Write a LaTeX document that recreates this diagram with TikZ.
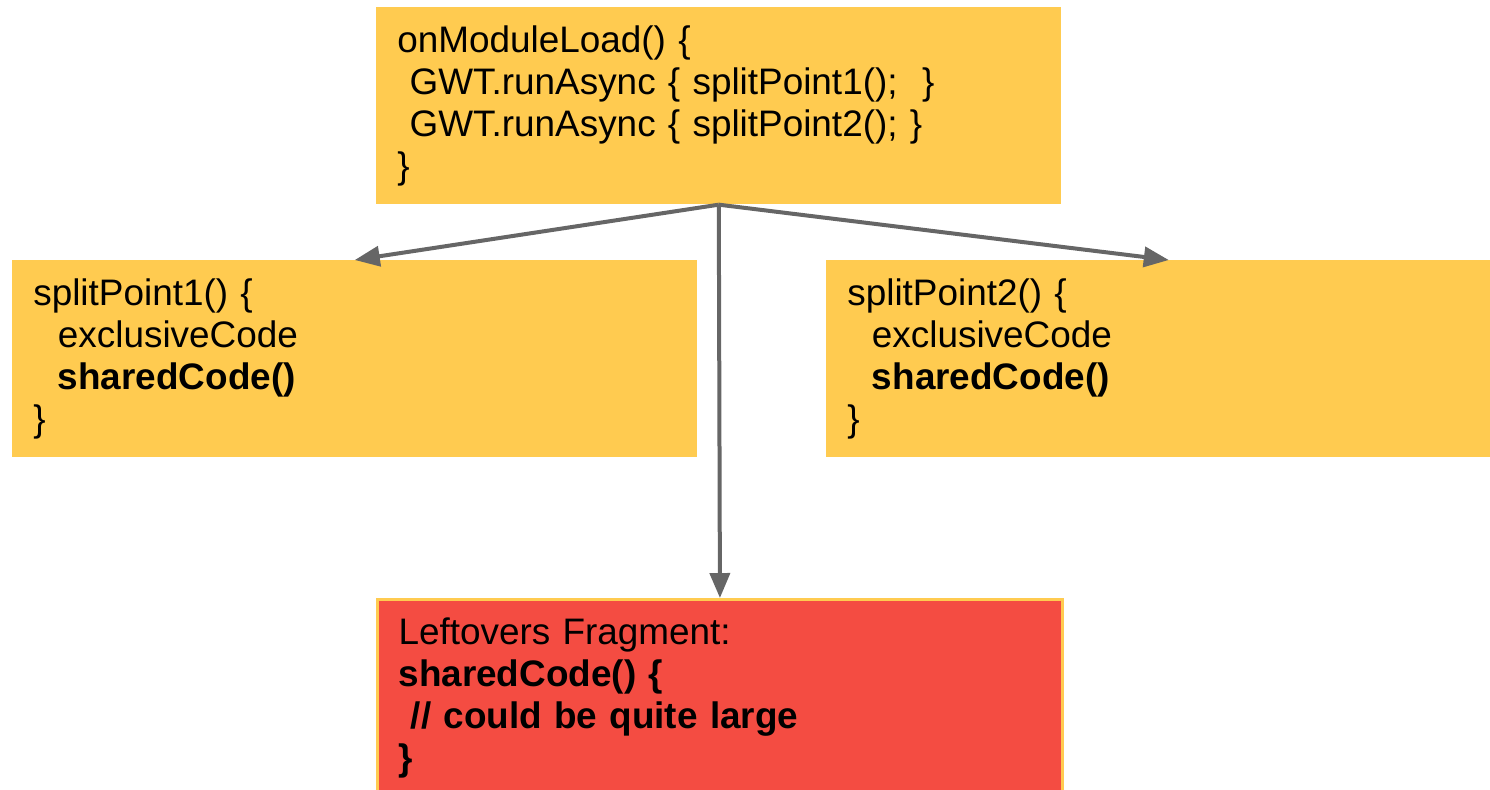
\documentclass[tikz,border=0pt]{standalone}
\usepackage{fontspec}
\setmainfont{Liberation Sans}
\usepackage{tikz}
\usetikzlibrary{arrows.meta, positioning}
\definecolor{myyellow}{RGB}{255,203,80}
\definecolor{myred}{RGB}{244,76,66}
\definecolor{mygrey}{RGB}{102,102,102}
\tikzset{
  block/.style={rectangle, fill=myyellow, anchor=north west,
    text width=12.86cm, minimum height=3.94cm, inner xsep=0.42cm,
    align=left, font=\fontsize{21}{23.9}\selectfont},
  redblock/.style={block, fill=myred, draw=myyellow, line width=0.06cm},
  arrow/.style={-{Triangle[length=0.5cm, width=0.4cm]}, color=mygrey, line width=0.08cm}
}

\begin{document}
\begin{tikzpicture}[x=0.02cm, y=-0.02cm]
  \useasboundingbox (0,0) rectangle (1490,789);

  % Entry point
  \node[block] (load) at (376,7) {onModuleLoad() \{\\
    \mbox{}\ GWT.runAsync \{ splitPoint1();\ \ \}\\
    \mbox{}\ GWT.runAsync \{ splitPoint2(); \}\\
    \}};

  % Split points
  \node[block] (split1) at (12,260) {splitPoint1() \{\\
    \mbox{}\ \ exclusiveCode\\
    \mbox{}\ \ \textbf{sharedCode()}\\
    \}};
  \node[block] (split2) at (826,260) {splitPoint2() \{\\
    \mbox{}\ \ exclusiveCode\\
    \mbox{}\ \ \textbf{sharedCode()}\\
    \}};

  % Leftovers
  \node[redblock] (left) at (376,598) {Leftovers Fragment:\\
    \textbf{sharedCode() \{}\\
    \mbox{}\ \textbf{// could be quite large}\\
    \textbf{\}}};

  % Arrows
  \draw[arrow] (load.south) -- (split1.north);
  \draw[arrow] (load.south) -- (split2.north);
  \draw[arrow] (load.south) -- (left.north);
\end{tikzpicture}
\end{document}
